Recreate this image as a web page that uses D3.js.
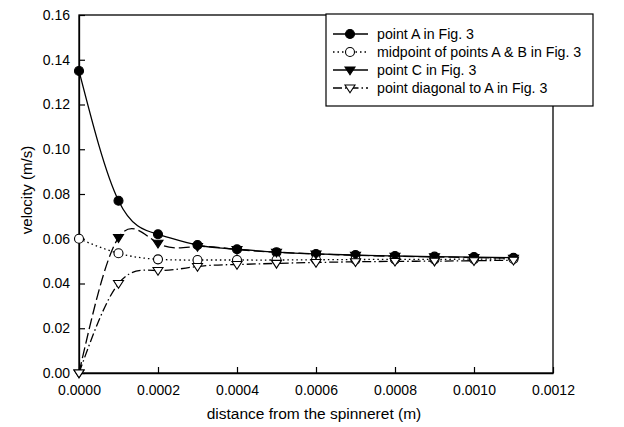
<!DOCTYPE html>
<html>
<head>
<meta charset="utf-8">
<script src="https://cdn.jsdelivr.net/npm/d3@7"></script>
<style>
  body { margin: 0; background: #fff; }
  svg { display: block; font-family: Arial, "Liberation Sans", sans-serif; }
</style>
</head>
<body>
<svg id="chart" width="624" height="427"></svg>
<script>
// ---- data ----
const distance = [0, 0.0001, 0.0002, 0.0003, 0.0004, 0.0005, 0.0006, 0.0007, 0.0008, 0.0009, 0.0010, 0.0011];
const pointA    = [0.135, 0.077, 0.062, 0.0572, 0.0553, 0.054, 0.0532, 0.0527, 0.0523, 0.052, 0.0518, 0.0515];
const midpointAB = [0.060, 0.0535, 0.0508, 0.0505, 0.0505, 0.0505, 0.0506, 0.0507, 0.0508, 0.0508, 0.0509, 0.051];
const pointC    = [0.000, 0.0605, 0.058, 0.0565, 0.0552, 0.054, 0.0532, 0.0526, 0.0522, 0.0519, 0.0516, 0.0513];
const pointDiag = [0.000, 0.040, 0.0458, 0.0476, 0.0485, 0.049, 0.0494, 0.0497, 0.0499, 0.050, 0.0502, 0.0504];
const seriesNames = ["point A in Fig. 3", "midpoint of points A & B in Fig. 3", "point C in Fig. 3", "point diagonal to A in Fig. 3"];
const xTicks = [0, 0.0002, 0.0004, 0.0006, 0.0008, 0.0010, 0.0012];
const yTicks = [0, 0.02, 0.04, 0.06, 0.08, 0.10, 0.12, 0.14, 0.16];
const xTitle = "distance from the spinneret (m)";
const yTitle = "velocity (m/s)";

// ---- layout ----
const svg = d3.select("#chart");
const L = 79, R = 553, T = 15, B = 373;
const x = d3.scaleLinear().domain([0, 0.0012]).range([L, R]);
const y = d3.scaleLinear().domain([0, 0.16]).range([B, T]);

const series = [
  { name: seriesNames[0], vals: pointA, dash: null, marker: "circle", fill: "#000" },
  { name: seriesNames[1], vals: midpointAB, dash: "1.5,3", marker: "circle", fill: "#fff" },
  { name: seriesNames[2], vals: pointC, dash: "11,4", marker: "tri", fill: "#000" },
  { name: seriesNames[3], vals: pointDiag, dash: "9,3,1.5,3", marker: "tri", fill: "#fff" }
];

// frame
svg.append("rect").attr("x", L).attr("y", T).attr("width", R - L).attr("height", B - T)
  .attr("fill", "none").attr("stroke", "#000").attr("stroke-width", 1.3);

// axes (ticks inward)
const xAxis = svg.append("g").attr("transform", `translate(0,${B})`)
  .call(d3.axisBottom(x).tickValues(xTicks).tickFormat(d3.format(".4f")).tickSizeInner(-6).tickSizeOuter(0).tickPadding(12));
const yAxis = svg.append("g").attr("transform", `translate(${L},0)`)
  .call(d3.axisLeft(y).tickValues(yTicks).tickFormat(d3.format(".2f")).tickSizeInner(-6).tickSizeOuter(0).tickPadding(9));
[xAxis, yAxis].forEach(g => {
  g.select(".domain").attr("stroke", "#000").attr("stroke-width", 1.3);
  g.selectAll(".tick line").attr("stroke", "#000").attr("stroke-width", 1.2);
  g.selectAll(".tick text").attr("fill", "#000").attr("font-size", 14).attr("font-family", "Arial, 'Liberation Sans', sans-serif");
});

// titles
svg.append("text").attr("x", (L + R) / 2 - 2).attr("y", 419).attr("text-anchor", "middle")
  .attr("font-size", 15.5).text(xTitle);
svg.append("text").attr("transform", `translate(32,${(T + B) / 2 - 4}) rotate(-90)`).attr("text-anchor", "middle")
  .attr("font-size", 15).text(yTitle);

// lines
const line = d3.line().x((d, i) => x(distance[i])).y(d => y(d)).curve(d3.curveNatural);
series.forEach(s => {
  svg.append("path").datum(s.vals).attr("d", line).attr("fill", "none")
    .attr("stroke", "#000").attr("stroke-width", 1.3)
    .attr("stroke-dasharray", s.dash);
});

function marker(g, s, cx, cy) {
  if (s.marker === "circle") {
    g.append("circle").attr("cx", cx).attr("cy", cy).attr("r", 4.5)
      .attr("fill", s.fill).attr("stroke", "#000").attr("stroke-width", 1.1);
  } else {
    const r = 5;
    g.append("path").attr("d", `M${cx - r},${cy - r * 0.6}L${cx + r},${cy - r * 0.6}L${cx},${cy + r * 0.95}Z`)
      .attr("fill", s.fill).attr("stroke", "#000").attr("stroke-width", 1.1);
  }
}
series.forEach(s => {
  const g = svg.append("g");
  s.vals.forEach((v, i) => marker(g, s, x(distance[i]), y(v)));
});

// legend
const lg = svg.append("g");
lg.append("rect").attr("x", 326).attr("y", 14).attr("width", 267).attr("height", 92)
  .attr("fill", "#fff").attr("stroke", "#000").attr("stroke-width", 1.2);
series.forEach((s, i) => {
  const ly = 34 + i * 18;
  lg.append("line").attr("x1", 333).attr("x2", 368).attr("y1", ly).attr("y2", ly)
    .attr("stroke", "#000").attr("stroke-width", 1.3)
    .attr("stroke-dasharray", i === 1 ? "1.5,3" : (i === 3 ? "9,3,1.5,3" : null));
  marker(lg, s, 350, ly);
  lg.append("text").attr("x", 377).attr("y", ly + 5).attr("font-size", 14.2).text(s.name);
});
</script>
</body>
</html>
